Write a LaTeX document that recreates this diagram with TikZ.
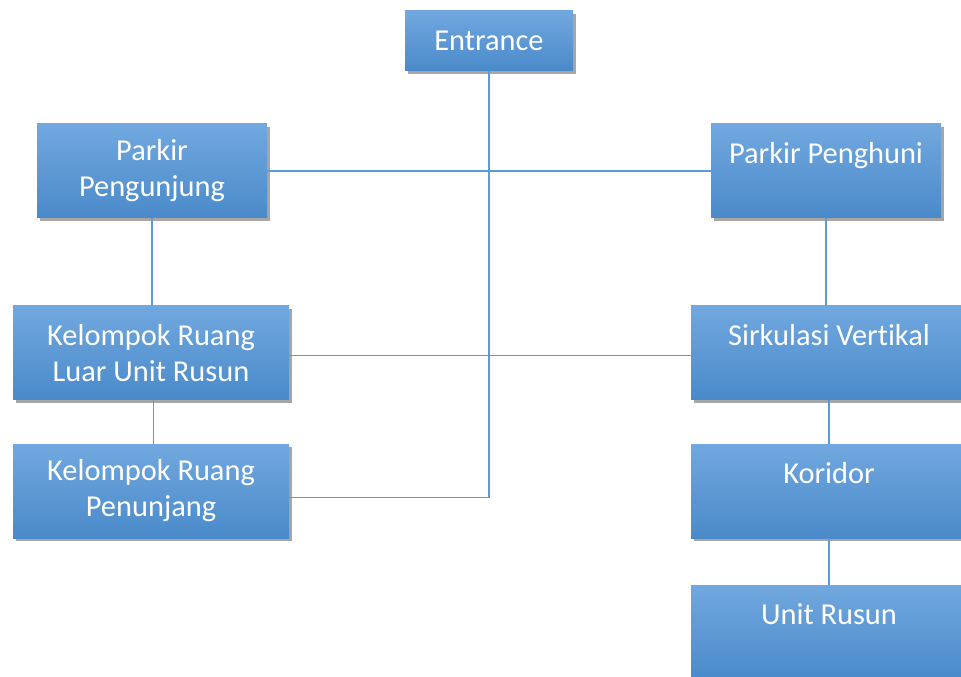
\documentclass[tikz,border=0pt]{standalone}
\usepackage{fontspec}
\setmainfont{Carlito}[Ligatures=NoCommon]
\usepackage{xcolor}
\usetikzlibrary{positioning,shadows}
\definecolor{rsTop}{HTML}{71A8DF}
\definecolor{rsBottom}{HTML}{4A8ACA}
\definecolor{rsLine}{HTML}{5B9BD5}
\tikzset{
  box/.style={
    rectangle,
    draw=none,
    top color=rsTop,
    bottom color=rsBottom,
    text=white,
    align=center,
    font=\fontsize{22.8}{27}\selectfont,
    minimum height=70.5pt,
    inner sep=0pt,
    drop shadow={shadow xshift=2pt, shadow yshift=-2.5pt, opacity=0.35, fill=black}
  },
  narrowbox/.style={box, minimum width=172.5pt},
  widebox/.style={box, minimum width=207pt},
  link/.style={draw=rsLine, line width=1.1pt}
}

\begin{document}
\begin{tikzpicture}[x=0.75pt, y=-0.75pt]
  \useasboundingbox (0,0) rectangle (961,677);
  \node[box, minimum width=126pt, minimum height=45pt] (entrance) at (489,41) {Entrance};
  \node[narrowbox] (pengunjung) at (152,171) {Parkir\\Pengunjung};
  \node[narrowbox] (penghuni) at (826,171) {Parkir Penghuni\\\mbox{}};
  \node[widebox] (luar) at (151,353) {Kelompok Ruang\\Luar Unit Rusun};
  \node[widebox] (penunjang) at (151,491) {Kelompok Ruang\\Penunjang};
  \node[widebox] (sirkulasi) at (829,353) {Sirkulasi Vertikal\\\mbox{}};
  \node[widebox] (koridor) at (829,491) {Koridor\\\mbox{}};
  \node[widebox] (unit) at (829,632) {Unit Rusun\\\mbox{}};
  \draw[link] ([yshift=-5pt]penunjang.east) -| (entrance.south);
  \draw[link] (pengunjung) -- (penghuni);
  \draw[link] ([yshift=-2pt]luar.east) -- ([yshift=-2pt]sirkulasi.west);
  \draw[link] (pengunjung.south) -- (pengunjung.south |- luar.north);
  \draw[link] ([xshift=2pt]luar.south) -- ([xshift=2pt]penunjang.north);
  \draw[link] (penghuni.south) -- (penghuni.south |- sirkulasi.north);
  \draw[link] (sirkulasi) -- (koridor);
  \draw[link] (koridor) -- (unit);
\end{tikzpicture}
\end{document}
